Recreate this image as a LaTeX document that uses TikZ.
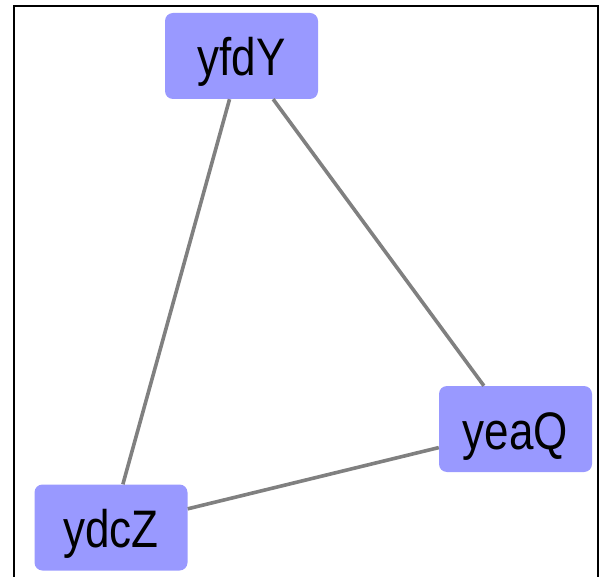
\documentclass[tikz,border=0pt]{standalone}
\usepackage{fontspec}
\setmainfont{Liberation Sans}
\newcommand{\tallt}[1]{\scalebox{1}[1.2]{#1}}
\begin{document}
\begin{tikzpicture}[x=1pt,y=-1pt,
  vbox/.style={draw=none,fill=nodefill,rounded corners=8pt,minimum width=153pt,minimum height=86pt,inner sep=0pt,text height=50pt,text depth=10pt,font=\fontsize{44}{48}\selectfont},
  link/.style={draw=edgegray,line width=3.6pt}]
\definecolor{nodefill}{HTML}{9999FF}
\definecolor{edgegray}{HTML}{808080}
\useasboundingbox (0,0) rectangle (602,577);
\draw[line width=2pt] (14,580) -- (14,6) -- (598,6) -- (598,580);
\node[vbox] (yfdY) at (241.5,56) {\tallt{yfdY}};
\node[vbox] (yeaQ) at (515.5,429) {\tallt{yeaQ}};
\node[vbox] (ydcZ) at (111,527.5) {\tallt{ydcZ}};
\draw[link] (yfdY) -- (ydcZ);
\draw[link] (yfdY) -- (yeaQ);
\draw[link] (yeaQ) -- (ydcZ);
\end{tikzpicture}
\end{document}
